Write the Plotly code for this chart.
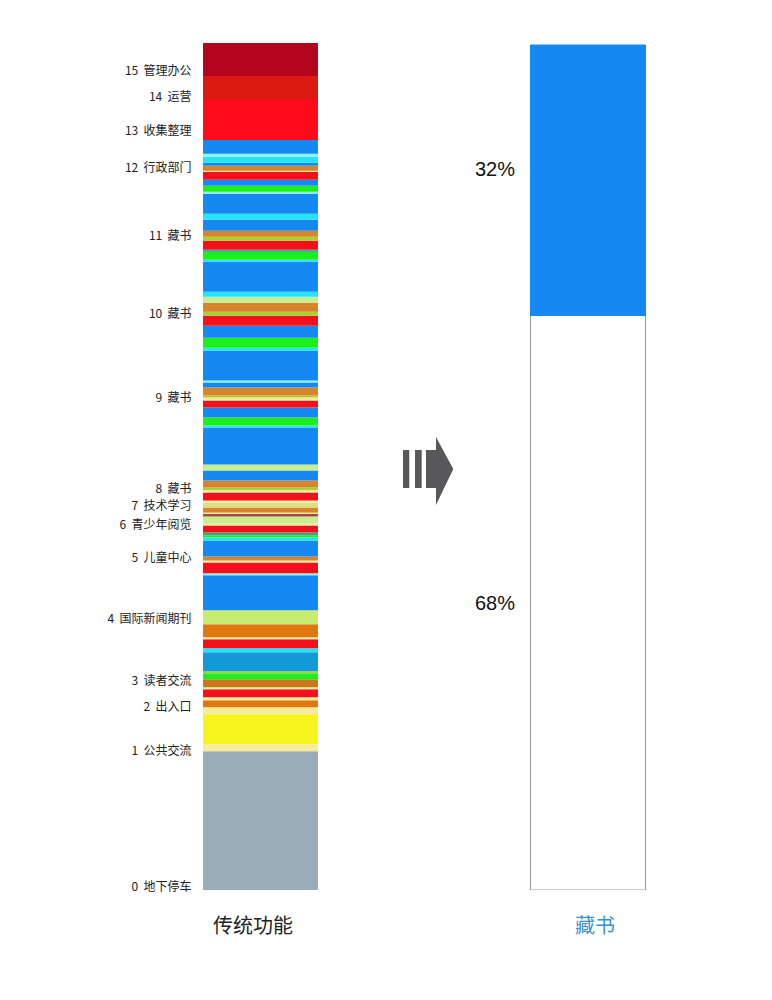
import plotly.graph_objects as go
import numpy as np

# ---------------- data ----------------
# colour names
GRAY = "#9AADB8"; LYEL = "#F7EC9C"; YELLOW = "#F8F51E"; ORANGE2 = "#E0780F"
RED = "#F2101C"; ORBROWN = "#C87A1A"; GREEN = "#1CF01C"; YGREEN = "#A8D232"
BLUETEAL = "#1399D8"; CYAN = "#22E4FF"; YG2 = "#C8EC70"; BLUE = "#1589F2"
LCYAN = "#8AF2E6"; ORANGE = "#D8842A"; DKTEAL = "#2FAE74"; LGREEN = "#C8EE90"
DKRG = "#A24848"; LYG = "#D8E282"; TEAL = "#3AB0A0"; LAQUA = "#8CF8DC"
BRRED = "#FF0A1A"; REDOR = "#DA1A12"; DKRED = "#B3061C"

# left column bands, bottom -> top
band_heights = [139, 7, 30, 7, 7, 3, 8, 2, 8, 6, 2, 19, 4, 9, 2, 13, 14, 35, 2, 11,
                2, 4, 16, 3, 2, 3, 7, 2, 7, 3, 1, 5, 5, 2, 8, 3, 2, 7, 10, 6,
                37, 2, 8, 10, 7, 3, 2, 8, 5, 2, 30, 3, 10, 12, 10, 4, 9, 6, 5, 30,
                2, 8, 2, 9, 4, 6, 11, 6, 20, 2, 6, 6, 8, 1, 5, 3, 6, 3, 14, 41,
                23, 33]
band_colors = [GRAY, LYEL, YELLOW, LYEL, ORANGE2, LYEL, RED, LYEL, ORBROWN, GREEN,
               YGREEN, BLUETEAL, CYAN, RED, LYEL, ORANGE2, YG2, BLUE, LCYAN, RED,
               LYEL, ORANGE, BLUE, CYAN, GREEN, DKTEAL, RED, LYEL, LGREEN, DKRG,
               LYEL, ORANGE, LYG, LYEL, RED, LYEL, YGREEN, ORANGE, BLUE, LGREEN,
               BLUE, CYAN, GREEN, BLUE, RED, LYEL, YGREEN, ORANGE, BLUE, LCYAN,
               BLUE, CYAN, GREEN, BLUE, RED, YGREEN, ORANGE, LGREEN, CYAN, BLUE,
               CYAN, GREEN, TEAL, RED, YGREEN, ORANGE, BLUE, CYAN, BLUE, LCYAN,
               GREEN, BLUE, RED, LYEL, ORANGE, BLUE, CYAN, LAQUA, BLUE, BRRED,
               REDOR, DKRED]

# floor labels (position in same units as band heights, from bottom)
floor_pos = [3, 139, 183, 209, 272, 333, 366, 385, 402, 493, 577, 655, 723, 760, 794, 820]
floor_names = ["地下停车", "公共交流", "出入口", "读者交流", "国际新闻期刊", "儿童中心",
               "青少年阅览", "技术学习", "藏书", "藏书", "藏书", "藏书", "行政部门",
               "收集整理", "运营", "管理办公"]

# right column: share (percent), bottom -> top
share_labels = ["其他", "藏书"]
share_values = [68, 32]
share_colors = ["#FFFFFF", BLUE]

categories = ["传统功能", "藏书"]

# ---------------- figure ----------------
OFF = 8                      # page body margin in the viewer
W, H = 772, 1000
L, R, T, B = 200 - OFF, 0, 43 - OFF, 110 + OFF
bar_w = 0.351
SCALE = 327.5                # px per x unit
x0 = -(260.5 - 200) / SCALE
x1 = x0 + (W - L - R) / SCALE

total = float(np.sum(band_heights))
bases = np.concatenate([[0], np.cumsum(band_heights)[:-1]])

fig = go.Figure()
fig.add_trace(go.Bar(
    x=[0] * len(band_heights), y=band_heights, base=bases, width=bar_w,
    marker=dict(color=band_colors, line=dict(width=0)),
    showlegend=False, hoverinfo="skip"))

share_bases = np.concatenate([[0], np.cumsum(share_values)[:-1]])
fig.add_trace(go.Bar(
    x=[1] * len(share_values), y=share_values, base=share_bases, width=bar_w,
    marker=dict(color=share_colors, line=dict(width=1, color=["#9A9A9A", BLUE])),
    yaxis="y2", showlegend=False, hoverinfo="skip"))

# percentage labels
for v, b, ys in zip(share_values, share_bases, [0, 11]):
    fig.add_annotation(x=1 - bar_w / 2, y=b + v / 2, xref="x", yref="y2",
                       text=f"{v}%", showarrow=False, xanchor="right",
                       xshift=-14, yshift=ys,
                       font=dict(family="Liberation Sans, Arial", size=20, color="#111111"))

# category labels under the columns
for i, (c, col, xs) in enumerate(zip(categories, ["#222222", "#3A8FD0"], [-8, 7])):
    fig.add_annotation(x=i, y=-0.0413, xref="x", yref="paper", text=c,
                       showarrow=False, xshift=xs, yanchor="middle",
                       font=dict(family="Noto Sans CJK SC", size=20, color=col))

# arrow (decoration) in page pixel space -> data coords
def px(p):
    return x0 + (p - 200) / SCALE

def py(p):
    return (890 - p) / (890 - 43) * total

def path(points):
    return "M " + " L ".join(f"{px(a):.5f},{py(b):.3f}" for a, b in points) + " Z"

arrow_col = "#58585A"
for pts in ([(403, 450), (409.3, 450), (409.3, 488), (403, 488)],
            [(415, 450), (421.7, 450), (421.7, 488), (415, 488)],
            [(426, 450), (436, 450), (436, 437), (453.3, 469), (436, 505),
             (436, 488), (426, 488)]):
    fig.add_shape(type="path", path=path(pts), xref="x", yref="y",
                  fillcolor=arrow_col, line=dict(width=0), layer="above")

fig.update_layout(
    width=W, height=H, margin=dict(l=L, r=R, t=T, b=B),
    paper_bgcolor="white", plot_bgcolor="white", barmode="overlay",
    font=dict(family="Noto Sans CJK SC", size=12, color="#222222"),
    xaxis=dict(range=[x0, x1], showgrid=False, zeroline=False, showline=False,
               showticklabels=False, ticks="", fixedrange=True),
    yaxis=dict(range=[0, total], showgrid=False, zeroline=False, showline=False,
               tickvals=floor_pos,
               ticktext=[f"{i}  {n}" for i, n in enumerate(floor_names)],
               ticks="outside", ticklen=5, tickcolor="rgba(0,0,0,0)",
               tickfont=dict(family="Noto Sans CJK SC", size=12, color="#222222")),
    yaxis2=dict(range=[0, 100 * (890 - 43) / (888 - 43)], overlaying="y",
                visible=False),
)

fig.write_html("out.html")
